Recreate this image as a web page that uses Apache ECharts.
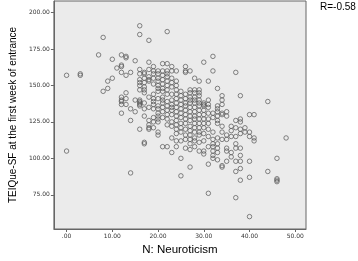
<!DOCTYPE html>
<html>
<head>
<meta charset="utf-8">
<script src="https://cdn.jsdelivr.net/npm/echarts@6/dist/echarts.min.js"></script>
<style>
    html, body { margin: 0; padding: 0; background: #fff; }
    #chart { width: 358px; height: 261px; }
</style>
</head>
<body>
<div id="chart"></div>
<script>
    // N: Neuroticism score per column, and TEIQue-SF values seen at that score
    const nScores = [0, 3, 7, 8, 9, 10, 11, 12, 13, 14, 15, 16, 17, 18, 19, 20, 21, 22, 23, 24,
        25, 26, 27, 28, 29, 30, 31, 32, 33, 34, 35, 36, 37, 38, 39, 40, 41, 44, 46, 48]
    const teiqueAtN = [
        [157, 105],
        [158, 157],
        [171],
        [183, 146],
        [153, 148],
        [168, 155],
        [162],
        [171, 164, 163, 159, 142, 140, 139, 137, 131],
        [170, 169, 157, 145, 141, 137],
        [159, 134, 126, 90],
        [167, 140, 132],
        [191, 185, 161, 158, 154, 152, 150, 147, 140, 139, 138, 137, 136, 120],
        [159, 158, 155, 152, 149, 147, 145, 138, 134, 129, 111, 110],
        [181, 166, 161, 156, 154, 153, 142, 135, 126, 123, 121, 120],
        [163, 160, 158, 155, 151, 144, 141, 139, 137, 134, 128, 125, 121],
        [160, 158, 155, 153, 150, 148, 146, 141, 136, 134, 131, 129, 127, 125, 118, 116],
        [165, 160, 157, 154, 151, 148, 146, 142, 140, 138, 135, 132, 128, 108],
        [187, 165, 160, 158, 156, 153, 150, 147, 144, 139, 136, 133, 130, 127, 123, 108],
        [163, 160, 155, 152, 149, 144, 140, 137, 135, 133, 130, 125, 122, 114, 104],
        [160, 153, 150, 147, 144, 141, 138, 135, 132, 129, 126, 123, 120, 117, 112, 108],
        [146, 143, 140, 137, 134, 131, 128, 124, 121, 118, 112, 100, 88],
        [163, 160, 159, 144, 141, 138, 136, 133, 130, 127, 124, 120, 116, 113, 107],
        [160, 147, 145, 142, 140, 138, 135, 132, 129, 126, 122, 119, 116, 113, 110, 106, 94],
        [155, 147, 145, 142, 140, 138, 135, 132, 129, 127, 124, 121, 118, 114, 112, 108],
        [153, 147, 145, 143, 140, 138, 136, 133, 130, 127, 124, 121, 118, 116, 111, 105],
        [166, 138, 137, 136, 133, 130, 127, 124, 121, 117, 112, 105, 103],
        [153, 140, 137, 135, 131, 127, 124, 120, 115, 108, 96, 76],
        [170, 160, 131, 128, 118, 113, 110, 108, 105, 102, 100],
        [148, 136, 134, 132, 129, 126, 124, 114, 110, 107, 104, 99],
        [143, 140, 137, 131, 130, 122, 118, 113, 95, 94],
        [132, 129, 116, 113, 107, 105, 98],
        [122, 119, 115, 104, 101],
        [159, 126, 121, 115, 110, 107, 98, 91, 73],
        [143, 127, 125, 120, 117, 107, 102, 98, 93, 85],
        [121, 118],
        [130, 118, 115, 98, 87, 60],
        [130, 114, 112],
        [139, 91],
        [100, 86, 85, 84],
        [114]
    ]
    const xTicks = [0, 10, 20, 30, 40, 50]
    const yTicks = [75, 100, 125, 150, 175, 200]
    const rLabel = 'R=-0.58'

    const points = []
    nScores.forEach((n, i) => {
        teiqueAtN[i].forEach(v => points.push([n, v]))
    })

    // SPSS style labels: ".00", "10.00"
    const fmt = v => {
        const s = Number(v).toFixed(2)
        return s.indexOf('0.') === 0 ? s.slice(1) : s
    }

    const chart = echarts.init(document.getElementById('chart'), null, {renderer: 'canvas'})
    const tickLabel = {
        fontSize: 6,
        color: '#333',
        fontFamily: 'DejaVu Sans'
    }

    const option = {
        animation: false,
        backgroundColor: '#fff',
        title: {
            text: rLabel,
            left: 320,
            top: 2,
            padding: 0,
            textStyle: {
                fontSize: 10,
                fontWeight: 'normal',
                color: '#000',
                fontFamily: 'Liberation Sans'
            }
        },
        grid: {
            left: 41,
            right: 52,
            top: 1,
            bottom: 24,
            show: true,
            backgroundColor: '#ebebeb',
            borderColor: '#666',
            borderWidth: 1
        },
        xAxis: {
            type: 'value',
            min: -2.77,
            max: 52.35,
            name: 'N: Neuroticism',
            nameLocation: 'middle',
            nameGap: 15,
            nameTextStyle: {
                fontSize: 11.5,
                color: '#000',
                fontFamily: 'Liberation Sans'
            },
            axisLine: {show: true, onZero: false, lineStyle: {color: '#666'}},
            axisTick: {show: true, length: 3, customValues: xTicks, lineStyle: {color: '#666'}},
            axisLabel: Object.assign({customValues: xTicks, formatter: fmt, margin: 4}, tickLabel),
            splitLine: {show: false}
        },
        yAxis: {
            type: 'value',
            min: 51.5,
            max: 208,
            name: 'TEIQue-SF at the first week of entrance',
            nameLocation: 'middle',
            nameRotate: 90,
            nameGap: 30,
            nameTextStyle: {
                fontSize: 10,
                color: '#000',
                fontFamily: 'Liberation Sans'
            },
            axisLine: {show: true, onZero: false, lineStyle: {color: '#666'}},
            axisTick: {show: true, length: 3, customValues: yTicks, lineStyle: {color: '#666'}},
            axisLabel: Object.assign({customValues: yTicks, formatter: fmt, margin: 4}, tickLabel),
            splitLine: {show: false}
        },
        series: [
            {
                type: 'scatter',
                data: points,
                symbol: 'circle',
                symbolSize: 4.5,
                silent: true,
                itemStyle: {
                    color: 'rgba(0,0,0,0)',
                    borderColor: '#555',
                    borderWidth: 0.9
                }
            }
        ]
    }

    chart.setOption(option)
</script>
</body>
</html>
